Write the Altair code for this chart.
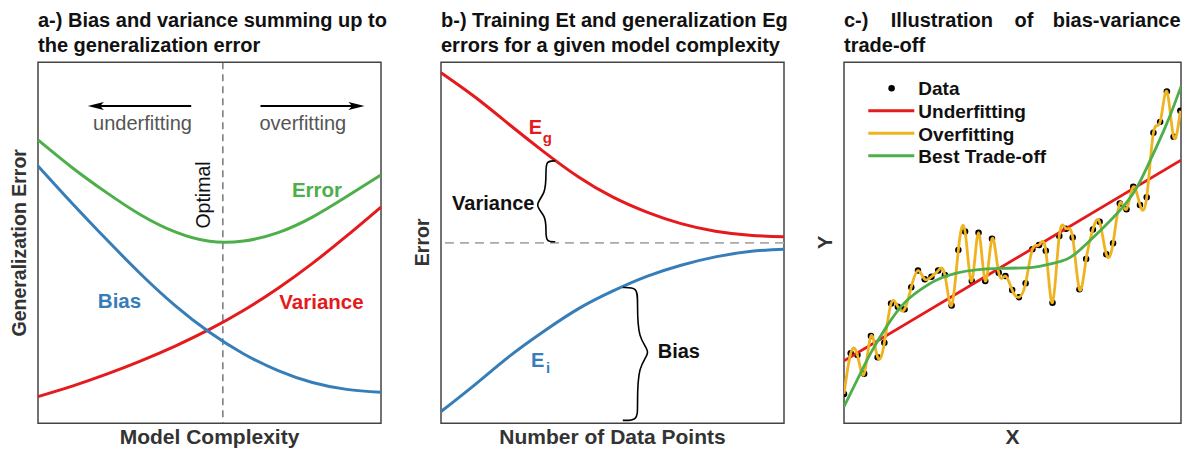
import altair as alt
import pandas as pd

FONT = "Liberation Sans"
RED = "#e41a1c"
BLUE = "#377eb8"
GREEN = "#4daf4a"
ORANGE = "#efb320"
W, H = 343, 361
WC = 337

# ---------------- panel a : bias / variance / error vs model complexity
a_x = [0, 0.1, 0.2, 0.3, 0.4, 0.5, 0.6, 0.7, 0.8, 0.9, 1.0]
a_bias = [0.713, 0.609, 0.509, 0.413, 0.326, 0.252, 0.192, 0.146, 0.113, 0.094, 0.086]
a_variance = [0.074, 0.103, 0.136, 0.173, 0.214, 0.260, 0.313, 0.374, 0.443, 0.519, 0.599]
a_error = [0.785, 0.708, 0.639, 0.577, 0.530, 0.504, 0.505, 0.528, 0.571, 0.628, 0.688]
a_optimal = [0.539]

# ---------------- panel b : training / generalization error vs data points
b_x = [0, 0.1, 0.2, 0.3, 0.4, 0.5, 0.6, 0.7, 0.8, 0.9, 1.0]
b_eg = [0.971, 0.903, 0.827, 0.752, 0.683, 0.627, 0.585, 0.553, 0.532, 0.521, 0.517]
b_ei = [0.0325, 0.108, 0.186, 0.255, 0.317, 0.366, 0.407, 0.438, 0.461, 0.476, 0.482]
b_asymptote = [0.5]

# ---------------- panel c : data and three fits
c_x = list(range(51))
c_data = [0.81, 1.94, 1.89, 1.37, 2.42, 1.83, 2.23, 3.32, 3.23, 3.16,
          3.77, 4.23, 3.99, 4.06, 4.23, 4.11, 3.26, 4.80, 5.31, 3.94,
          5.28, 3.94, 5.11, 4.17, 4.08, 3.69, 3.49, 3.88, 4.82, 4.94,
          4.78, 3.34, 5.19, 5.39, 5.15, 3.71, 4.55, 5.37, 5.58, 4.68,
          4.99, 6.09, 5.93, 6.55, 6.05, 6.26, 8.05, 8.35, 9.19, 7.94, 8.66]
c_under_x = [0, 50.1]
c_under = [1.73, 7.29]
c_best_x = [0, 2.09, 3.99, 6.47, 8.95, 11.28, 13.77, 16.69, 19.61, 23.26,
            28.07, 30.56, 33.18, 35.23, 37.12, 41.94, 44.86, 47.78, 50.12]
c_best = [0.46, 1.25, 1.95, 2.72, 3.33, 3.69, 3.97, 4.16, 4.25, 4.29,
          4.32, 4.41, 4.55, 4.83, 5.16, 6.10, 7.02, 8.21, 9.34]

DUMMY = pd.DataFrame({"d": [0]})


def txt(text, x, y, size, color="#111111", weight="bold", align="left",
        baseline="alphabetic", angle=0):
    kw = dict(text=text, font=FONT, fontSize=size, fontWeight=weight,
              color=color, align=align, baseline=baseline)
    if angle:
        kw["angle"] = angle
    return alt.Chart(DUMMY).mark_text(**kw).encode(x=alt.value(x), y=alt.value(y))


def sx(domain):
    return alt.Scale(domain=domain, nice=False, zero=False)


def brace(name, xv, xt, xp, yt, yb, ym, r):
    xp2 = xv + 1.5 * (xp - xv)
    pts = [(xt, yt), (xv, yt), (xv, yt - r), (xv, ym + r), (xp2, ym),
           (xv, ym - r), (xv, yb + r), (xv, yb), (xt, yb)]
    return pd.DataFrame({"x": [p[0] for p in pts], "v": [p[1] for p in pts],
                         "o": list(range(len(pts))), "b": name})


XT_BASE = 381.2  # baseline of the bottom titles, relative to the plot top

# ================= panel a
XA = alt.X("x:Q", scale=sx([0, 1]), axis=None)
df_a = pd.DataFrame({"x": a_x, "bias": a_bias, "variance": a_variance, "error": a_error})
base_a = alt.Chart(df_a)


def ya(f):
    return alt.Y(f + ":Q", scale=sx([0, 1]), axis=None)


LEFT_ARROW = "M-1,0L1,-0.5L0.55,0L1,0.5Z"
RIGHT_ARROW = "M1,0L-1,-0.5L-0.55,0L-1,0.5Z"

pa = alt.layer(
    alt.Chart(pd.DataFrame({"x": a_optimal})).mark_rule(
        color="#555555", strokeDash=[7, 5], strokeWidth=1.2).encode(x=XA),
    base_a.mark_line(color=RED, strokeWidth=3, interpolate="natural").encode(x=XA, y=ya("variance")),
    base_a.mark_line(color=BLUE, strokeWidth=3, interpolate="natural").encode(x=XA, y=ya("bias")),
    base_a.mark_line(color=GREEN, strokeWidth=3, interpolate="natural").encode(x=XA, y=ya("error")),
    alt.Chart(DUMMY).mark_rule(color="black", strokeWidth=2).encode(
        x=alt.value(56), x2=alt.value(153.2), y=alt.value(43.7)),
    alt.Chart(DUMMY).mark_point(shape=LEFT_ARROW, size=256, filled=True, color="black",
                                opacity=1, strokeWidth=0).encode(x=alt.value(57.8), y=alt.value(43.7)),
    alt.Chart(DUMMY).mark_rule(color="black", strokeWidth=2).encode(
        x=alt.value(222.5), x2=alt.value(320), y=alt.value(43.7)),
    alt.Chart(DUMMY).mark_point(shape=RIGHT_ARROW, size=256, filled=True, color="black",
                                opacity=1, strokeWidth=0).encode(x=alt.value(318.5), y=alt.value(43.7)),
    txt("underfitting", 104.5, 67.7, 20, color="#555555", weight="normal", align="center"),
    txt("overfitting", 264.8, 67.7, 20, color="#555555", weight="normal", align="center"),
    txt("Optimal", 172.2, 132.7, 19.5, color="#111111", weight="normal", align="center", angle=270),
    txt("Error", 279, 134.4, 20.5, color=GREEN, align="center"),
    txt("Bias", 81.5, 246, 20.5, color=BLUE, align="center"),
    txt("Variance", 283.5, 247, 20.5, color=RED, align="center"),
    txt("a-) Bias and variance summing up to", 0, -35, 20),
    txt("the generalization error", 0, -10, 20),
    txt("Generalization Error", -12, 180.5, 19.5, color="#333333", align="center", angle=270),
    txt("Model Complexity", W / 2, XT_BASE, 21, color="#333333", align="center"),
).properties(width=W, height=H)

# ================= panel b
XB = alt.X("x:Q", scale=sx([0, 1]), axis=None)
YB = alt.Y("v:Q", scale=sx([0, 1]), axis=None)
df_eg = pd.DataFrame({"x": b_x, "v": b_eg})
df_ei = pd.DataFrame({"x": b_x, "v": b_ei})
df_br = pd.concat([
    brace("var", 0.306, 0.333, 0.282, 0.727, 0.503, 0.605, 0.03),
    brace("bias", 0.573, 0.530, 0.602, 0.376, 0.008, 0.197, 0.035),
])

pb = alt.layer(
    alt.Chart(pd.DataFrame({"v": b_asymptote})).mark_rule(
        color="#aaaaaa", strokeDash=[9, 6], strokeWidth=1.8).encode(y=YB),
    alt.Chart(df_eg).mark_line(color=RED, strokeWidth=3, interpolate="natural").encode(x=XB, y=YB),
    alt.Chart(df_ei).mark_line(color=BLUE, strokeWidth=3, interpolate="natural").encode(x=XB, y=YB),
    alt.Chart(df_br).mark_line(color="black", strokeWidth=1.6, interpolate="basis").encode(
        x=XB, y=YB, order="o:O", detail="b:N"),
    txt("E", 87.7, 71.5, 20, color=RED),
    txt("g", 101.7, 80.5, 15, color=RED),
    txt("E", 90, 304.5, 20, color=BLUE),
    txt("i", 105, 311, 15, color=BLUE),
    txt("Variance", 93.4, 147.5, 20, align="right"),
    txt("Bias", 216.7, 295.8, 20),
    txt("b-) Training Et and generalization Eg", 0, -35, 20),
    txt("errors for a given model complexity", 0, -10, 20),
    txt("Error", -12.5, 180, 19.5, color="#333333", align="center", angle=270),
    txt("Number of Data Points", W / 2, XT_BASE, 21, color="#333333", align="center"),
).properties(width=W, height=H)

# ================= panel c
XC = alt.X("x:Q", scale=sx([0, 50.1]), axis=None)
YC = alt.Y("y:Q", scale=sx([0, 10]), axis=None)
df_data = pd.DataFrame({"x": c_x, "y": c_data})
df_under = pd.DataFrame({"x": c_under_x, "y": c_under})
df_best = pd.DataFrame({"x": c_best_x, "y": c_best})

pc = alt.layer(
    alt.Chart(df_data).mark_circle(size=42, color="black", opacity=1, clip=True).encode(x=XC, y=YC),
    alt.Chart(df_under).mark_line(color=RED, strokeWidth=2.8, clip=True).encode(x=XC, y=YC),
    alt.Chart(df_data).mark_line(color=ORANGE, strokeWidth=2.8, interpolate="natural", clip=True).encode(x=XC, y=YC),
    alt.Chart(df_best).mark_line(color=GREEN, strokeWidth=2.8, interpolate="natural", clip=True).encode(x=XC, y=YC),
    alt.Chart(DUMMY).mark_point(shape="circle", filled=True, size=42, color="black", opacity=1).encode(
        x=alt.value(47.6), y=alt.value(26)),
    alt.Chart(DUMMY).mark_rule(color=RED, strokeWidth=3).encode(
        x=alt.value(24.3), x2=alt.value(70.3), y=alt.value(48.4)),
    alt.Chart(DUMMY).mark_rule(color=ORANGE, strokeWidth=3).encode(
        x=alt.value(24.3), x2=alt.value(70.3), y=alt.value(71)),
    alt.Chart(DUMMY).mark_rule(color=GREEN, strokeWidth=3).encode(
        x=alt.value(24.3), x2=alt.value(70.3), y=alt.value(93.4)),
    txt("Data", 74.3, 32.7, 19),
    txt("Underfitting", 74.3, 56, 19),
    txt("Overfitting", 74.3, 78.6, 19),
    txt("Best Trade-off", 74.3, 101, 19),
    txt("c-)", 0, -35, 20),
    txt("Illustration", 46.8, -35, 20),
    txt("of", 170.6, -35, 20),
    txt("bias-variance", WC - 0.4, -35, 20, align="right"),
    txt("trade-off", 0, -10.6, 20),
    txt("Y", -12.5, 180, 20, color="#333333", align="center", angle=270),
    txt("X", WC / 2, XT_BASE, 21, color="#333333", align="center"),
).properties(width=WC, height=H)

chart = alt.hconcat(pa, pb, pc, spacing=60, bounds="flush").configure_view(
    stroke="#444444", strokeWidth=1.5
).properties(
    autosize=alt.AutoSizeParams(type="none"),
    padding={"left": 30, "top": 54.3, "right": 1144, "bottom": 387.7},
)

chart.save("out.html", embed_options={"renderer": "svg", "actions": False})
